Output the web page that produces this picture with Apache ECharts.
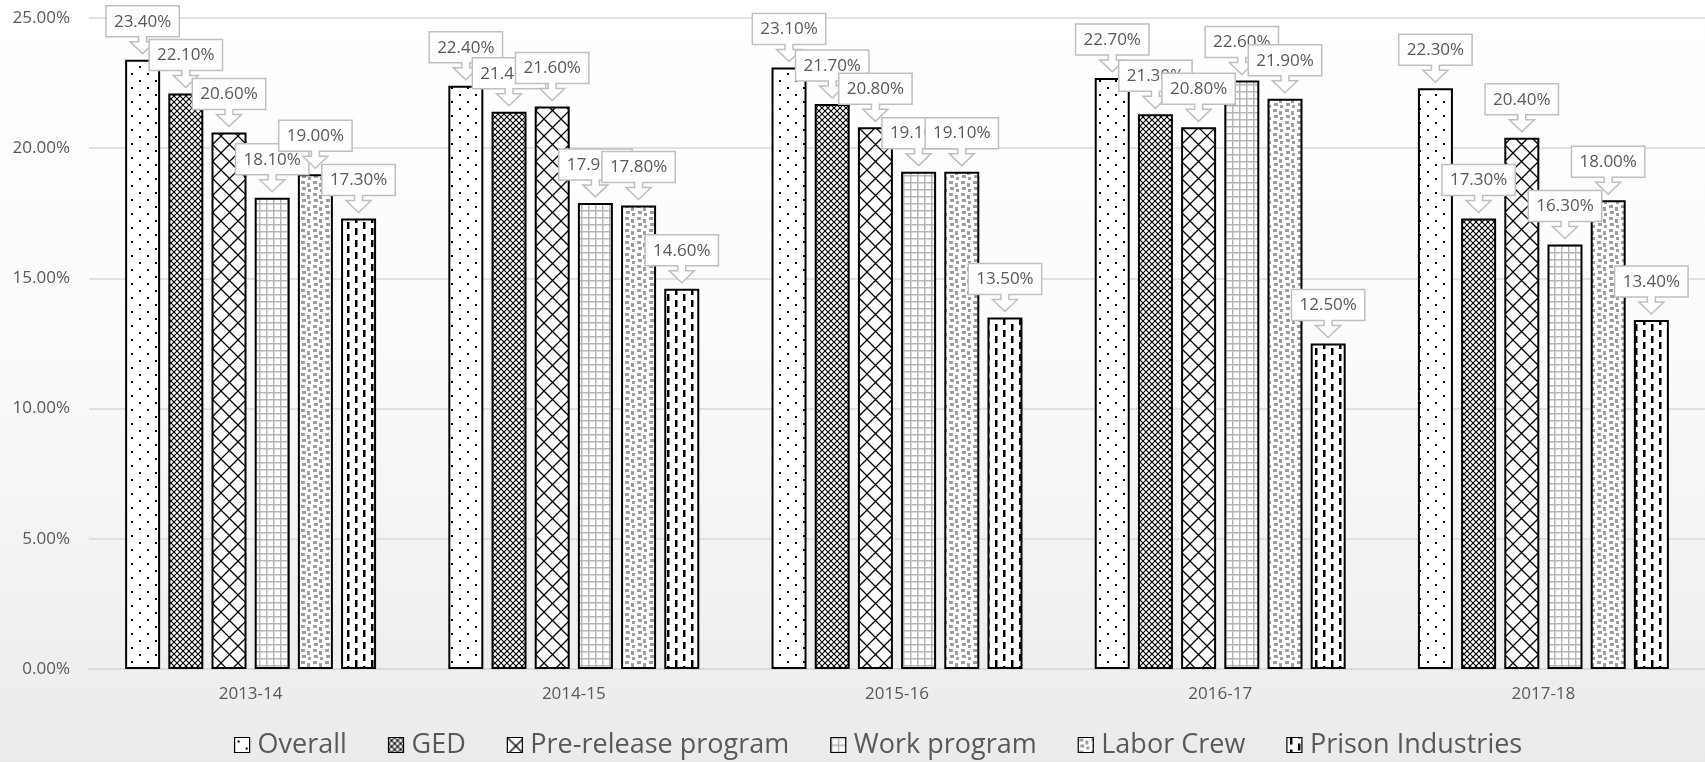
<!DOCTYPE html>
<html>
<head>
<meta charset="utf-8">
<script src="https://cdn.jsdelivr.net/npm/echarts@6/dist/echarts.min.js"></script>
<style>
  html, body { margin: 0; padding: 0; }
  #chart { width: 1705px; height: 762px; }
</style>
</head>
<body>
<div id="chart"></div>
<script>
// data (percent)
const years = ["2013-14", "2014-15", "2015-16", "2016-17", "2017-18"];
const seriesNames = ["Overall", "GED", "Pre-release program", "Work program", "Labor Crew", "Prison Industries"];
const overall = [23.4, 22.4, 23.1, 22.7, 22.3];
const ged = [22.1, 21.4, 21.7, 21.3, 17.3];
const preRelease = [20.6, 21.6, 20.8, 20.8, 20.4];
const workProgram = [18.1, 17.9, 19.1, 22.6, 16.3];
const laborCrew = [19.0, 17.8, 19.1, 21.9, 18.0];
const prisonInd = [17.3, 14.6, 13.5, 12.5, 13.4];
const yTicks = [0, 5, 10, 15, 20, 25];

const allValues = [overall, ged, preRelease, workProgram, laborCrew, prisonInd];

const BAR_W = 35;
const BAR_GAP = 0.234;
const FONT = "'Open Sans', sans-serif";
const TXT = "#595959";

// fill patterns drawn on small canvases
function tile(w, h, draw) {
  let c = document.createElement("canvas");
  c.width = w;
  c.height = h;
  let ctx = c.getContext("2d");
  ctx.fillStyle = "#fff";
  ctx.fillRect(0, 0, w, h);
  draw(ctx);
  return { image: c, repeat: "repeat" };
}

const patterns = [
  // dotted
  tile(16, 14, function (ctx) {
    ctx.fillStyle = "#000";
    ctx.fillRect(3, 3, 2, 2);
    ctx.fillRect(11, 10, 2, 2);
  }),
  // small crosshatch
  tile(6, 6, function (ctx) {
    ctx.strokeStyle = "#000";
    ctx.lineWidth = 1.1;
    ctx.beginPath();
    ctx.moveTo(-1, -1); ctx.lineTo(7, 7);
    ctx.moveTo(7, -1); ctx.lineTo(-1, 7);
    ctx.stroke();
  }),
  // large diamonds
  tile(17, 17, function (ctx) {
    ctx.strokeStyle = "#000";
    ctx.lineWidth = 1.3;
    ctx.beginPath();
    ctx.moveTo(-1, -1); ctx.lineTo(18, 18);
    ctx.moveTo(18, -1); ctx.lineTo(-1, 18);
    ctx.stroke();
  }),
  // gray grid
  tile(7, 7, function (ctx) {
    ctx.fillStyle = "#b5b5b5";
    ctx.fillRect(0, 0, 7, 1.5);
    ctx.fillRect(0, 0, 1.5, 7);
  }),
  // gray confetti
  tile(12, 12, function (ctx) {
    ctx.fillStyle = "#9e9e9e";
    ctx.fillRect(1, 1, 4, 3);
    ctx.fillRect(7, 3, 3, 4);
    ctx.fillRect(2, 7, 4, 3);
    ctx.fillRect(8, 9, 3, 3);
  }),
  // vertical dashes
  tile(16, 12, function (ctx) {
    ctx.fillStyle = "#000";
    ctx.fillRect(3, 0, 2.5, 7);
    ctx.fillRect(11, 6, 2.5, 6);
    ctx.fillRect(11, 0, 2.5, 1);
  })
];

let chart = echarts.init(document.getElementById("chart"));

let measureCtx = document.createElement("canvas").getContext("2d");
measureCtx.font = "17px " + FONT;

// callout labels: [category index, value, series index]
let calloutData = [];
for (let s = 0; s < allValues.length; s++) {
  for (let c = 0; c < years.length; c++) {
    calloutData.push([c, allValues[s][c], s]);
  }
}

function renderCallout(params, api) {
  let c = api.value(0), v = api.value(1), s = api.value(2);
  let pt = api.coord([c, v]);
  let pitch = BAR_W * (1 + BAR_GAP);
  let cx = pt[0] + (s - 2.5) * pitch;
  let tipY = pt[1] - 6;
  let text = v.toFixed(2) + "%";
  let hw = (measureCtx.measureText(text).width + 16) / 2;
  let bb = tipY - 17;
  let top = bb - 31;
  let pts = [
    [cx - hw, top], [cx + hw, top], [cx + hw, bb], [cx + 4, bb],
    [cx + 4, bb + 5], [cx + 12.5, bb + 5], [cx, tipY], [cx - 12.5, bb + 5],
    [cx - 4, bb + 5], [cx - 4, bb], [cx - hw, bb]
  ];
  return {
    type: "group",
    children: [
      {
        type: "polygon",
        shape: { points: pts },
        style: { fill: "#fff", stroke: "#bfbfbf", lineWidth: 1.5 }
      },
      {
        type: "text",
        style: {
          x: cx, y: top + 16,
          text: text,
          align: "center", verticalAlign: "middle",
          font: "17px " + FONT,
          fill: TXT
        }
      }
    ]
  };
}

let series = [];
for (let i = 0; i < seriesNames.length; i++) {
  series.push({
    name: seriesNames[i],
    type: "bar",
    data: allValues[i],
    barWidth: BAR_W,
    barGap: BAR_GAP * 100 + "%",
    itemStyle: {
      color: patterns[i],
      borderColor: "#000",
      borderWidth: 2
    },
    emphasis: { disabled: true }
  });
}
series.push({
  type: "custom",
  data: calloutData,
  renderItem: renderCallout,
  z: 5,
  silent: true,
  clip: false
});

let option = {
  animation: false,
  backgroundColor: {
    type: "linear", x: 0, y: 0, x2: 0, y2: 1,
    colorStops: [
      { offset: 0, color: "#ffffff" },
      { offset: 0.45, color: "#fbfbfb" },
      { offset: 1, color: "#ebebeb" }
    ]
  },
  grid: { left: 89, top: 18, width: 1632, height: 651 },
  legend: {
    data: seriesNames,
    left: 234,
    top: 731,
    padding: 0,
    itemWidth: 15,
    itemHeight: 15,
    itemGap: 41,
    icon: "rect",
    itemStyle: { borderColor: "#000", borderWidth: 1.2 },
    textStyle: { fontFamily: FONT, fontSize: 27, color: TXT, lineHeight: 28, padding: [0, 0, 0, 3] }
  },
  xAxis: {
    type: "category",
    data: years,
    axisTick: { show: false },
    axisLine: { lineStyle: { color: "#d9d9d9", width: 1.5 } },
    axisLabel: { fontFamily: FONT, fontSize: 17, color: TXT, margin: 17 }
  },
  yAxis: {
    type: "value",
    min: yTicks[0],
    max: yTicks[yTicks.length - 1],
    interval: 5,
    axisLine: { show: false },
    axisTick: { show: false },
    splitLine: { lineStyle: { color: "#d9d9d9", width: 1.5 } },
    axisLabel: {
      fontFamily: FONT, fontSize: 17, color: TXT, margin: 19,
      formatter: function (v) { return v.toFixed(2) + "%"; }
    }
  },
  series: series
};

chart.setOption(option);
</script>
</body>
</html>
